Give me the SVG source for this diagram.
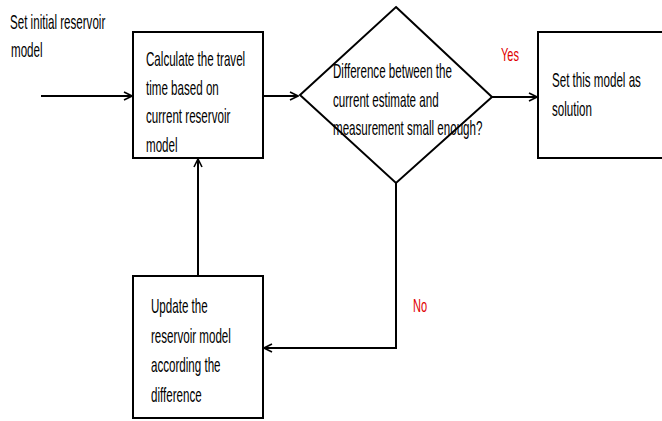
<svg xmlns="http://www.w3.org/2000/svg" width="662" height="421" viewBox="0 0 662 421">
<style>
.n{fill:#fff;stroke:#000;stroke-width:2}
.t{font-family:"Liberation Sans",Arial,sans-serif;font-size:20px;fill:#000}
.r{font-family:"Liberation Sans",Arial,sans-serif;font-size:19px;fill:#e00000}
.c{fill:none;stroke:#000;stroke-width:2}
</style>
<defs>
<marker id="a" viewBox="0 0 10 10" refX="9" refY="5" markerWidth="10" markerHeight="10" markerUnits="userSpaceOnUse" orient="auto">
<path d="M1,1 L9,5 L1,9" fill="none" stroke="#000" stroke-width="1.6"/>
</marker>
</defs>
<rect width="662" height="421" fill="#fff"/>
<g id="start">
<text class="t" transform="translate(10,29) scale(0.58,1)">Set initial reservoir</text>
<text class="t" transform="translate(11,57) scale(0.58,1)">model</text>
</g>
<g id="calc">
<rect class="n" x="133" y="32" width="130" height="126"/>
<text class="t" transform="translate(146,66) scale(0.58,1)">Calculate the travel</text>
<text class="t" transform="translate(146,95) scale(0.58,1)">time based on</text>
<text class="t" transform="translate(146,123) scale(0.58,1)">current reservoir</text>
<text class="t" transform="translate(146,152) scale(0.58,1)">model</text>
</g>
<g id="decision">
<polygon class="n" points="396,7 492,97 396,183 300,95"/>
<text class="t" transform="translate(333,78) scale(0.58,1)">Difference between the</text>
<text class="t" transform="translate(333,107) scale(0.58,1)">current estimate and</text>
<text class="t" transform="translate(333,135) scale(0.58,1)">measurement small enough?</text>
</g>
<g id="solution">
<path class="n" d="M662,32 H538 V158 H662"/>
<text class="t" transform="translate(552,87) scale(0.58,1)">Set this model as</text>
<text class="t" transform="translate(552,116) scale(0.58,1)">solution</text>
</g>
<g id="update">
<rect class="n" x="133" y="276" width="130" height="142"/>
<text class="t" transform="translate(151,313) scale(0.58,1)">Update the</text>
<text class="t" transform="translate(151,343) scale(0.58,1)">reservoir model</text>
<text class="t" transform="translate(151,372) scale(0.58,1)">according the</text>
<text class="t" transform="translate(151,402) scale(0.58,1)">difference</text>
</g>
<g id="connectors">
<line class="c" x1="41" y1="96" x2="132" y2="96" marker-end="url(#a)"/>
<line class="c" x1="263" y1="96" x2="298" y2="96" marker-end="url(#a)"/>
<line class="c" x1="492" y1="97" x2="537" y2="97" marker-end="url(#a)"/>
<polyline class="c" points="396,183 396,348 264,348" marker-end="url(#a)"/>
<line class="c" x1="198" y1="276" x2="198" y2="159" marker-end="url(#a)"/>
<text class="r" transform="translate(501,61) scale(0.58,1)">Yes</text>
<text class="r" transform="translate(413,312) scale(0.58,1)">No</text>
</g>
</svg>
